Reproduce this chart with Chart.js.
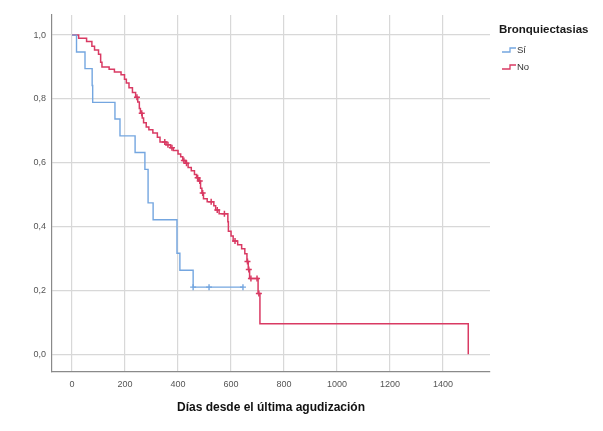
<!DOCTYPE html>
<html><head><meta charset="utf-8">
<script src="https://cdn.jsdelivr.net/npm/chart.js@4/dist/chart.umd.min.js"></script>
<style>html,body{margin:0;padding:0;background:#fff}</style>
</head><body>
<canvas id="c" width="603" height="431" style="display:block"></canvas>
<script>
// ---- data ----
const xTicks = [0, 200, 400, 600, 800, 1000, 1200, 1400];
const yTicks = [0, 0.2, 0.4, 0.6, 0.8, 1.0];
const legendTitle = 'Bronquiectasias';
const groupNames = ['Sí', 'No'];

const siTimes = [0, 17, 49, 76, 78, 162, 181, 238, 275, 287, 306, 396, 407, 457, 645];
const siSurv  = [1, 0.947, 0.895, 0.842, 0.789, 0.737, 0.684, 0.632, 0.579, 0.474, 0.421, 0.316, 0.263, 0.21, 0.21];
const siCensTimes = [457, 517, 645];
const siCensSurv  = [0.21, 0.21, 0.21];

const noTimes = [0, 25, 55, 75, 85, 100, 108, 113, 140, 160, 185, 198, 205, 215, 228, 240, 248, 254, 258, 265, 270, 280, 290, 305, 322, 332, 355, 372, 382, 400, 410, 418, 428, 438, 450, 462, 470, 478, 485, 490, 496, 510, 535, 542, 555, 588, 590, 600, 608, 625, 640, 652, 660, 665, 670, 702, 709, 1495];
const noSurv  = [1, 0.99, 0.98, 0.965, 0.953, 0.94, 0.915, 0.90, 0.893, 0.884, 0.876, 0.862, 0.85, 0.835, 0.82, 0.805, 0.79, 0.77, 0.755, 0.74, 0.725, 0.712, 0.703, 0.693, 0.68, 0.665, 0.656, 0.647, 0.638, 0.627, 0.619, 0.607, 0.598, 0.585, 0.575, 0.563, 0.553, 0.543, 0.52, 0.505, 0.487, 0.478, 0.465, 0.452, 0.44, 0.415, 0.385, 0.37, 0.355, 0.343, 0.33, 0.315, 0.29, 0.265, 0.237, 0.19, 0.095, 0];
const noCensTimes = [245, 263, 350, 362, 377, 422, 432, 474, 482, 493, 525, 548, 575, 615, 662, 667, 675, 698, 705];
const noCensSurv  = [0.805, 0.755, 0.665, 0.656, 0.647, 0.607, 0.598, 0.553, 0.543, 0.505, 0.478, 0.452, 0.44, 0.355, 0.29, 0.265, 0.237, 0.237, 0.19];

// ---- styles ----
const BLUE = '#74a6e0';
const RED = '#d93a63';

const pts = (xs, ys) => xs.map((x, i) => ({x: x, y: ys[i]}));

Chart.defaults.font.family = "'Liberation Sans', Arial, sans-serif";

const legendPlugin = {
  id: 'kmLegend',
  afterDraw(chart) {
    const ctx = chart.ctx;
    ctx.save();
    ctx.fillStyle = '#1a1a1a';
    ctx.font = "bold 11.5px 'Liberation Sans', Arial, sans-serif";
    ctx.textAlign = 'left';
    ctx.textBaseline = 'middle';
    ctx.fillText(legendTitle, 499, 30);
    const cols = [BLUE, RED];
    const ys = [50, 67];
    ctx.font = "9.5px 'Liberation Sans', Arial, sans-serif";
    groupNames.forEach((n, i) => {
      const y = ys[i];
      ctx.strokeStyle = cols[i];
      ctx.lineWidth = 1.3;
      ctx.beginPath();
      ctx.moveTo(502, y + 2);
      ctx.lineTo(510, y + 2);
      ctx.lineTo(510, y - 2);
      ctx.lineTo(516, y - 2);
      ctx.stroke();
      ctx.fillStyle = '#333';
      ctx.fillText(n, 517, y);
    });
    ctx.restore();
  }
};

new Chart(document.getElementById('c'), {
  type: 'line',
  data: {
    datasets: [
      {label: groupNames[0], data: pts(siTimes, siSurv), stepped: true, borderColor: BLUE, borderWidth: 1.4, pointRadius: 0, fill: false},
      {label: groupNames[1], data: pts(noTimes, noSurv), stepped: true, borderColor: RED, borderWidth: 1.5, pointRadius: 0, fill: false},
      {label: groupNames[0] + ' censurado', data: pts(siCensTimes, siCensSurv), showLine: false, pointStyle: 'cross', pointRadius: 3, borderColor: BLUE, borderWidth: 1.4},
      {label: groupNames[1] + ' censurado', data: pts(noCensTimes, noCensSurv), showLine: false, pointStyle: 'cross', pointRadius: 3, borderColor: RED, borderWidth: 1.5}
    ]
  },
  options: {
    responsive: false,
    animation: false,
    devicePixelRatio: 1,
    layout: {padding: {left: 0, right: 113, top: 15, bottom: 0}},
    plugins: {legend: {display: false}, tooltip: {enabled: false}},
    scales: {
      x: {
        type: 'linear', min: -75.5, max: 1577,
        afterBuildTicks: s => { s.ticks = xTicks.map(v => ({value: v})); },
        afterFit: s => { s.height = 59; },
        grid: {color: '#d8d8d8', lineWidth: 1.2, drawTicks: false},
        border: {color: '#8a8a8a', width: 1.2},
        ticks: {padding: 7, color: '#555', font: {size: 9}, maxRotation: 0, autoSkip: false, callback: v => String(v)},
        title: {display: true, text: 'Días desde el última agudización', color: '#111', font: {size: 12, weight: 'bold'}, padding: {top: 4, bottom: 16}}
      },
      y: {
        type: 'linear', min: -0.056, max: 1.063,
        afterBuildTicks: s => { s.ticks = yTicks.map(v => ({value: v})); },
        afterFit: s => { s.width = 52; },
        grid: {color: '#d8d8d8', lineWidth: 1.2, drawTicks: false},
        border: {color: '#8a8a8a', width: 1.2},
        ticks: {padding: 6, color: '#555', font: {size: 9}, callback: v => Number(v).toFixed(1).replace('.', ',')}
      }
    }
  },
  plugins: [legendPlugin]
});
</script>
</body></html>
